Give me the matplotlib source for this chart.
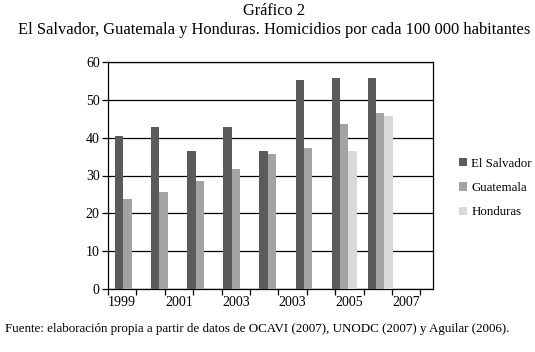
import matplotlib
matplotlib.use("Agg")
import matplotlib.pyplot as plt
import numpy as np

years = [1999, 2000, 2001, 2002, 2003, 2004, 2005, 2006, 2007]
el_salvador = [40.5, 42.7, 36.4, 42.7, 36.4, 55.2, 55.9, 55.9, np.nan]
guatemala = [23.7, 25.7, 28.5, 31.6, 35.8, 37.4, 43.6, 46.5, np.nan]
honduras = [np.nan, np.nan, np.nan, np.nan, np.nan, np.nan, 36.4, 45.8, np.nan]
series_names = ["El Salvador", "Guatemala", "Honduras"]
tick_labels = ["1999", "2001", "2003", "2003", "2005", "2007"]

colors = ["#5b5b5b", "#a3a3a3", "#d9d9d9"]
plt.rcParams['font.family'] = ['Liberation Serif', 'DejaVu Serif']

fig = plt.figure(figsize=(5.35, 3.52), dpi=100)
ax = fig.add_axes([108/535, 1-289/352, 325/535, 227/352])

x = np.arange(len(years))
w = 0.23
for j, (vals, name) in enumerate(zip([el_salvador, guatemala, honduras], series_names)):
    ax.bar(x + (j-1)*w + 0.04, vals, width=w, color=colors[j], label=name, zorder=3)

ax.set_xlim(-0.5, len(years)-0.5)
ax.set_ylim(0, 60)
ax.set_yticks(range(0, 61, 10))
ax.yaxis.grid(True, color='black', linewidth=0.9, zorder=1)
ax.tick_params(axis='y', labelsize=10, length=4, width=0.9, direction='out', pad=2)
for s in ax.spines.values():
    s.set_linewidth(0.9)
ax.set_xticks([])

# category axis (as printed in the original, with its own spacing)
ax2 = ax.twiny()
ncat = 325/28.4
ax2.set_xlim(0, ncat)
ax2.xaxis.set_ticks_position('bottom')
ax2.xaxis.set_label_position('bottom')
ax2.spines['bottom'].set_position(('axes', 0))
ax2.set_xticks(np.arange(0, 12))
ax2.set_xticklabels([])
ax2.set_xticks(np.arange(len(tick_labels))*2 + 0.5, minor=True)
ax2.set_xticklabels(tick_labels, minor=True)
ax2.tick_params(axis='x', which='major', length=4, width=0.9, direction='out')
ax2.tick_params(axis='x', which='minor', length=0, labelsize=10, pad=5)
for s in ax2.spines.values():
    s.set_visible(False)

handles, labels = ax.get_legend_handles_labels()
fig.legend(handles, labels, loc='center left', bbox_to_anchor=(453/535, 1-188/352),
           frameon=False, fontsize=9.3, handlelength=0.6, handleheight=0.6,
           handletextpad=0.3, labelspacing=0.95, borderpad=0)

fig.text(274/535, 1-11/352, "Gráfico 2", ha='center', va='center', fontsize=11.8)
fig.text(274/535, 1-30/352, "El Salvador, Guatemala y Honduras. Homicidios por cada 100 000 habitantes",
         ha='center', va='center', fontsize=11.9)
fig.text(5/535, 1-329/352,
         "Fuente: elaboración propia a partir de datos de OCAVI (2007), UNODC (2007) y Aguilar (2006).",
         ha='left', va='center', fontsize=9.4)

fig.savefig("out.png", dpi=100)
